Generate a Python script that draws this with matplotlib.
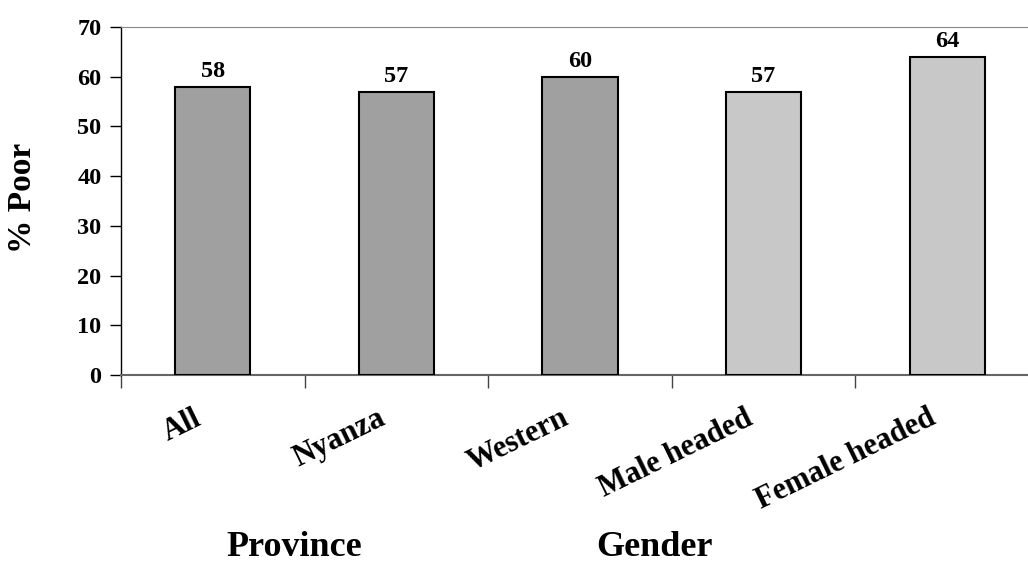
import matplotlib.pyplot as plt
import matplotlib.transforms as mtransforms
import numpy as np

categories = ["All", "Nyanza", "Western", "Male headed", "Female headed"]
poor_pct = [58, 57, 60, 57, 64]
bar_colors = ["#A0A0A0", "#A0A0A0", "#A0A0A0", "#C8C8C8", "#C8C8C8"]
groups = ["Province", "Gender"]

plt.rcParams['font.family'] = ['Liberation Serif', 'DejaVu Serif']
plt.rcParams['font.weight'] = 'bold'

fig = plt.figure(figsize=(10.28, 5.63), dpi=100)
ax = fig.add_axes([121/1028, 1 - 375/563, 1 - 121/1028, (375 - 27)/563])

x = np.arange(len(categories))
ax.bar(x, poor_pct, width=0.41, color=bar_colors, edgecolor="black", linewidth=1.5, zorder=3)
for xi, v in zip(x, poor_pct):
    ax.text(xi, v + 0.9, str(v), ha="center", va="bottom", fontsize=17.5, fontweight="bold")

ax.set_xlim(-0.5, 4.44)
ax.set_ylim(0, 70)
ax.set_yticks(range(0, 71, 10))
ax.tick_params(axis="y", labelsize=17.5, length=8, width=1, pad=6)
ax.set_xticks(x)
ax.set_xticklabels(categories, rotation=26, ha="right", va="center",
                   rotation_mode="anchor", fontsize=22)
ax.tick_params(axis="x", which="major", length=0, pad=30)
shift = mtransforms.ScaledTranslation(-13/100, 0, fig.dpi_scale_trans)
for lab in ax.get_xticklabels():
    lab.set_transform(lab.get_transform() + shift)
ax.set_xticks(np.arange(-0.5, 4.0, 1.0), minor=True)
ax.tick_params(axis="x", which="minor", length=9, width=1, color="#444444")

ax.spines["right"].set_visible(False)
ax.spines["top"].set_color("#888888")
ax.spines["bottom"].set_color("#666666")
ax.spines["bottom"].set_linewidth(1.5)
ax.spines["left"].set_linewidth(1)

ax.set_ylabel("% Poor", fontsize=24, fontweight="bold")
ax.yaxis.set_label_coords(-0.0915, 0.51)

fig.text(294/1028, 1 - 547/563, groups[0], ha="center", va="center", fontsize=26, fontweight="bold")
fig.text(655/1028, 1 - 547/563, groups[1], ha="center", va="center", fontsize=26, fontweight="bold")

fig.savefig("out.png", dpi=100)
